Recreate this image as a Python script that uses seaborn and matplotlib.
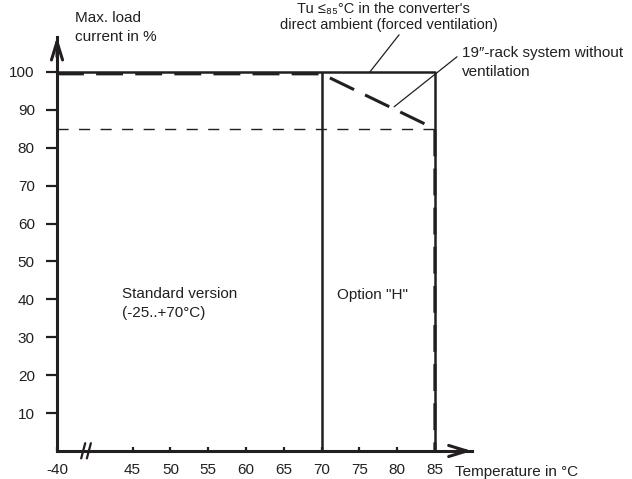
import matplotlib
matplotlib.use("Agg")
import matplotlib.pyplot as plt
import seaborn as sns

# ---------------- data ----------------
temp_ticks = [-40, 45, 50, 55, 60, 65, 70, 75, 80, 85]
load_ticks = [10, 20, 30, 40, 50, 60, 70, 80, 90, 100]

# forced ventilation (Tu <= 85 °C in the converter's direct ambient)
forced_temp = [-40, 85, 85]
forced_load = [100, 100, 0]

# boundary between standard version and option "H"
optionH_temp = [70, 70]
optionH_load = [0, 100]

# 19"-rack system without ventilation
rack_temp = [-40, 70, 85, 85]
rack_load = [99.5, 99.5, 85, 0]

# 85 % reference level
ref_temp = [-40, 85]
ref_load = [85, 85]

# ---------------- broken temperature axis ----------------
BREAK_SHIFT = 75  # temperatures left of the break are moved right by this


def pos(t):
    return t + BREAK_SHIFT if t < 45 else t


def posl(ts):
    return [pos(t) for t in ts]


C = "#231f20"

sns.set_theme(style="white")
plt.rcParams["font.family"] = ["Liberation Sans", "DejaVu Sans"]

fig = plt.figure(figsize=(6.32, 4.79), dpi=100)
ax = fig.add_axes([0.0902, 0.0585, 0.7467 - 0.0902, 0.9234 - 0.0585])

# solid lines
sns.lineplot(x=posl(forced_temp), y=forced_load, sort=False, estimator=None,
             color=C, lw=1.8, ax=ax)
sns.lineplot(x=posl(optionH_temp), y=optionH_load, sort=False, estimator=None,
             color=C, lw=1.8, ax=ax)
# thin dashed reference
sns.lineplot(x=posl(ref_temp), y=ref_load, sort=False, estimator=None,
             color=C, lw=1.0, dashes=False, ax=ax).lines[-1].set_dashes((8, 7.5))
# thick dashed rack curve
sns.lineplot(x=posl(rack_temp), y=rack_load, sort=False, estimator=None,
             color=C, lw=2.2, ax=ax).lines[-1].set_dashes((8.8, 4.0))
for ln in ax.lines:
    ln.set_solid_capstyle("butt")
    ln.set_dash_capstyle("butt")

x_lo, x_hi = pos(-40), 89.9
ax.set_xlim(x_lo, x_hi)
ax.set_ylim(0, 109.3)

# spines
for s in ["top", "right"]:
    ax.spines[s].set_visible(False)
for s in ["left", "bottom"]:
    ax.spines[s].set_linewidth(2.2)
    ax.spines[s].set_color(C)
    ax.spines[s].set_capstyle("projecting")

# ticks
ax.set_xticks(posl(temp_ticks))
ax.set_xticklabels([str(t) for t in temp_ticks])
ax.set_yticks(load_ticks)
ax.set_yticklabels([str(v) for v in load_ticks])
ax.tick_params(axis="y", left=True, direction="out", length=8, width=1.6,
               pad=8, labelsize=11, colors=C)
ax.tick_params(axis="x", bottom=True, direction="in", length=3, width=1.6,
               pad=9, labelsize=11, colors=C)
ax.grid(False)

# arrow heads on the axes
ap = dict(arrowstyle="->,head_length=0.65,head_width=0.2", lw=2.2, color=C,
          shrinkA=0, shrinkB=0, mutation_scale=20)
ax.annotate("", xy=(x_hi, 0), xytext=(x_hi - 2, 0), arrowprops=ap,
            annotation_clip=False)
ax.annotate("", xy=(x_lo, 109.3), xytext=(x_lo, 104), arrowprops=ap,
            annotation_clip=False)

# axis break marks
for bx in (38.2, 38.95):
    ax.plot([bx, bx + 0.53], [-1.95, 2.05], color=C, lw=1.6, clip_on=False)

# texts
fs = 11
ax.text(37.4, 114.2, "Max. load", fontsize=fs, color=C, va="center", ha="left")
ax.text(37.4, 109.2, "current in %", fontsize=fs, color=C, va="center", ha="left")
ax.text(66.7, 116.7, "Tu \u2264\u2088\u2085°C in the converter's", fontsize=10.5,
        color=C, va="center", ha="left")
ax.text(64.5, 112.3, "direct ambient (forced ventilation)", fontsize=10.5,
        color=C, va="center", ha="left")
ax.text(88.55, 104.9, "19\u2033-rack system without", fontsize=fs, color=C,
        va="center", ha="left")
ax.text(88.55, 99.9, "ventilation", fontsize=fs, color=C, va="center", ha="left")
ax.text(43.6, 41.4, "Standard version", fontsize=fs, color=C, va="center", ha="left")
ax.text(43.6, 36.3, "(-25..+70°C)", fontsize=fs, color=C, va="center", ha="left")
ax.text(72.0, 41.2, 'Option "H"', fontsize=fs, color=C, va="center", ha="left")
ax.text(87.65, -5.5, "Temperature in °C", fontsize=fs, color=C, va="center",
        ha="left")

# leader lines
ax.plot([80.26, 76.4], [109.8, 100], color=C, lw=0.9, clip_on=False)
ax.plot([87.93, 79.6], [104.0, 90.8], color=C, lw=0.9, clip_on=False)

fig.savefig("out.png", dpi=100)
